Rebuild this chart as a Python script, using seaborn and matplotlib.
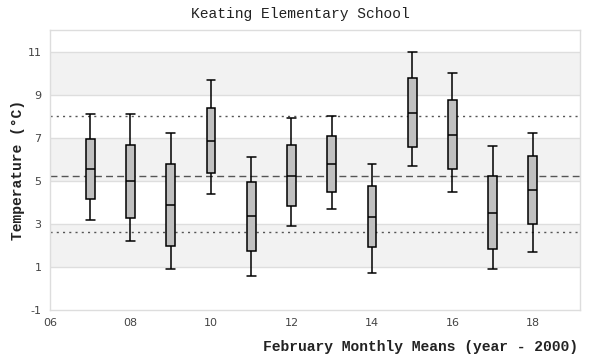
import seaborn as sns
import pandas as pd
import matplotlib.pyplot as plt

# February monthly means, one box per year (year - 2000)
years = [7, 8, 9, 10, 11, 12, 13, 14, 15, 16, 17, 18]
lows = [3.2, 2.2, 0.9, 4.4, 0.6, 2.9, 3.7, 0.7, 5.7, 4.5, 0.9, 1.7]
q1s = [4.16, 3.27, 1.96, 5.36, 1.74, 3.82, 4.47, 1.92, 6.58, 5.54, 1.82, 2.99]
medians = [5.56, 4.99, 3.87, 6.85, 3.36, 5.23, 5.78, 3.31, 8.14, 7.12, 3.50, 4.57]
q3s = [6.95, 6.66, 5.78, 8.38, 4.94, 6.66, 7.07, 4.75, 9.78, 8.75, 5.20, 6.15]
highs = [8.1, 8.1, 7.22, 9.68, 6.1, 7.92, 7.99, 5.78, 10.99, 10.0, 6.61, 7.22]

ref_mean = 5.2
ref_upper = 8.03
ref_lower = 2.62

xticks = [6, 8, 10, 12, 14, 16, 18]
xticklabels = ['06', '08', '10', '12', '14', '16', '18']
yticks = [-1, 1, 3, 5, 7, 9, 11]

rows = []
for yr, a, b, c, d, e in zip(years, lows, q1s, medians, q3s, highs):
    for v in (a, b, c, d, e):
        rows.append({'year': yr, 'temp': v})
df = pd.DataFrame(rows)

sns.set_theme(style='white')
plt.rcParams['axes.unicode_minus'] = False
fig = plt.figure(figsize=(6, 3.6), dpi=100)
ax = fig.add_axes([50 / 600, 50 / 360, 530 / 600, 280 / 360])

# alternating bands
for lo in (1, 5, 9):
    ax.axhspan(lo, lo + 2, color='#f2f2f2', zorder=0, lw=0)
for y in yticks[1:]:
    ax.axhline(y, color='#dedede', lw=1, zorder=0.5)

ax.axhline(ref_upper, color='#555555', lw=1, ls=(0, (1.5, 3)), zorder=1)
ax.axhline(ref_lower, color='#555555', lw=1, ls=(0, (1.5, 3)), zorder=1)
ax.axhline(ref_mean, color='#555555', lw=1, ls=(0, (5, 3)), zorder=1)

sns.boxplot(data=df, x='year', y='temp', native_scale=True, whis=(0, 100),
            width=0.22, color='#c0c0c0', saturation=1, linecolor='black',
            linewidth=1.1, showfliers=False, capwidths=0.22, ax=ax,
            boxprops={'zorder': 3}, whiskerprops={'zorder': 3},
            capprops={'zorder': 3}, medianprops={'zorder': 4})

ax.set_xlim(6, 19.17)
ax.set_ylim(-1, 12)
ax.set_xticks(xticks)
ax.set_xticklabels(xticklabels)
ax.set_yticks(yticks)
ax.tick_params(length=0, labelsize=8, colors='#444444', pad=6)
for s in ax.spines.values():
    s.set_color('#dddddd')
    s.set_linewidth(1)

mono = 'Liberation Mono'
ax.set_xlabel('')
ax.set_ylabel('')
fig.text(0.5, 1 - 14 / 360, 'Keating Elementary School', ha='center', va='center',
         family=mono, fontsize=10.5, color='#222222')
fig.text(18 / 600, 0.5 + 10 / 360, 'Temperature (°C)', rotation=90, ha='center',
         va='center', family=mono, fontsize=10.5, fontweight='bold', color='#222222')
fig.text(578 / 600, 13 / 360, 'February Monthly Means (year - 2000)', ha='right',
         va='center', family=mono, fontsize=10.5, fontweight='bold', color='#222222')

fig.savefig('out.png', dpi=100)
